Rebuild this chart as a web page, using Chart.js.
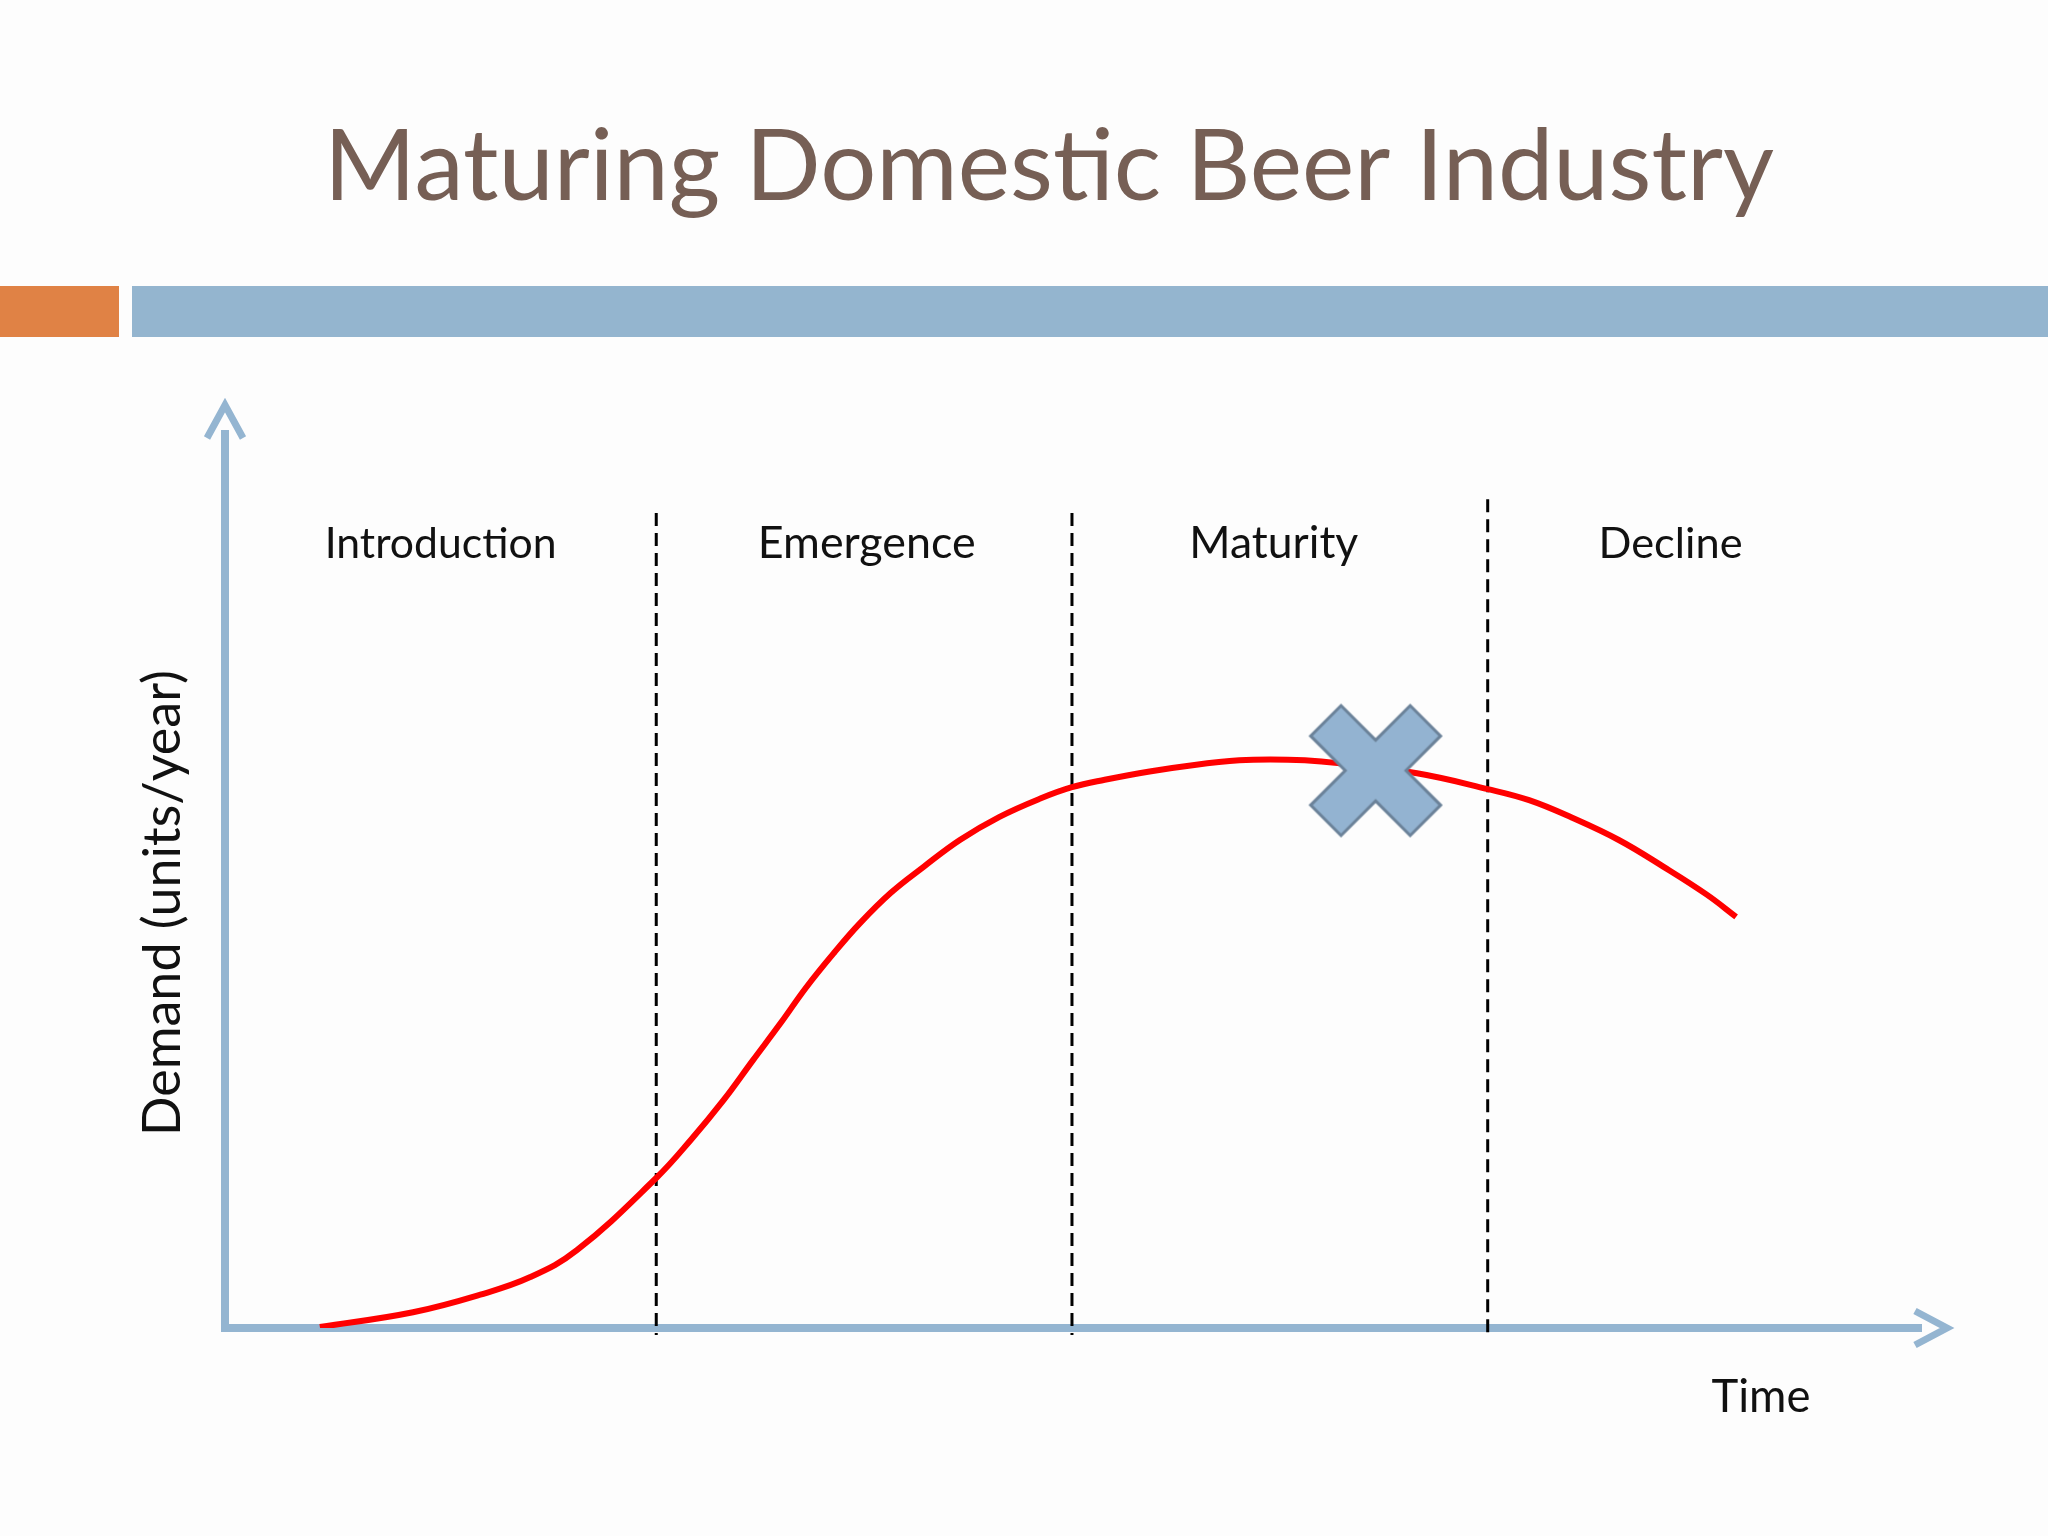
<!DOCTYPE html>
<html>
<head>
<meta charset="utf-8">
<script src="https://cdn.jsdelivr.net/npm/chart.js@4.4.1/dist/chart.umd.min.js"></script>
<style>
  html, body { margin: 0; padding: 0; background: #fdfdfd; }
  #wrap { width: 2048px; height: 1536px; }
</style>
</head>
<body>
<div id="wrap"><canvas id="chart" width="2048" height="1536"></canvas></div>
<script>
// data (time on x 0..100, demand on y 0..100)
var chartTitle = "Maturing Domestic Beer Industry";
var stageNames = ["Introduction", "Emergence", "Maturity", "Decline"];
var stageLabelX = [12.5, 37.2, 60.8, 83.8];
var stageBoundaries = [25, 49.1, 73.2];
var boundaryTops = [88, 88, 89.5];
var timeX = [5.5, 10.9, 14.8, 17.7, 20.4, 25.0, 27.0, 28.9, 30.6, 32.2, 33.7, 35.3, 36.8,
             38.6, 40.5, 42.6, 44.9, 47.3, 49.1, 51.0, 53.6, 56.2, 58.8, 60.6, 62.6, 64.5,
             69.1, 73.2, 75.6, 78.1, 80.8, 83.4, 85.9, 87.6];
var demandY = [0.1, 1.7, 3.6, 5.5, 8.4, 16.2, 20.3, 24.6, 28.9, 32.9, 36.8, 40.5, 43.7,
               47.0, 49.8, 52.7, 55.2, 57.2, 58.4, 59.2, 60.1, 60.8, 61.3, 61.4, 61.3, 61.0,
               59.9, 58.2, 57.0, 55.1, 52.7, 49.8, 46.8, 44.4];
var markerX = [66.7];
var markerY = [60.2];
var xAxisTitle = "Time";
var yAxisTitle = "Demand (units/year)";

var axisColor = "#94b5d1";
var fontFamily = "Lato, 'Open Sans', sans-serif";

// filled X used as the marker image
function makeCross() {
    var size = 140;
    var c = document.createElement("canvas");
    c.width = size; c.height = size;
    var g = c.getContext("2d");
    var h = 21.5, L = 70.4;
    var pts = [[L, -h], [L, h], [h, h], [h, L], [-h, L], [-h, h], [-L, h], [-L, -h],
               [-h, -h], [-h, -L], [h, -L], [h, -h]];
    g.translate(size / 2, size / 2);
    g.rotate(Math.PI / 4);
    g.beginPath();
    pts.forEach(function (p, i) { if (i == 0) g.moveTo(p[0], p[1]); else g.lineTo(p[0], p[1]); });
    g.closePath();
    g.fillStyle = "#93b3d1";
    g.fill();
    g.lineWidth = 3;
    g.lineJoin = "miter";
    g.strokeStyle = "#6b8299";
    g.stroke();
    return c;
}

function fitSize(ctx, text, weight, width) {
    ctx.font = weight + " 100px " + fontFamily;
    return 100 * width / ctx.measureText(text).width;
}

var slidePlugin = {
    id: "slide",
    beforeDraw: function (chart) {
        var ctx = chart.ctx;
        ctx.save();
        ctx.fillStyle = "#fdfdfd";
        ctx.fillRect(0, 0, chart.width, chart.height);
        // header bars
        ctx.fillStyle = "#e08245";
        ctx.fillRect(0, 286, 119, 51);
        ctx.fillStyle = "#94b5cf";
        ctx.fillRect(132, 286, chart.width - 132, 51);
        // title
        var s = fitSize(ctx, chartTitle, "400", 1450);
        ctx.font = "400 " + s + "px " + fontFamily;
        ctx.fillStyle = "#765f55";
        ctx.textAlign = "center";
        ctx.textBaseline = "alphabetic";
        ctx.fillText(chartTitle, 1049, 200);
        ctx.restore();
    },
    beforeDatasetsDraw: function (chart) {
        var ctx = chart.ctx;
        var xs = chart.scales.x, ys = chart.scales.y;
        var x0 = xs.getPixelForValue(0), y0 = ys.getPixelForValue(0);
        var xEnd = xs.getPixelForValue(100), yEnd = ys.getPixelForValue(100);
        ctx.save();
        // axes
        ctx.strokeStyle = axisColor;
        ctx.lineWidth = 8;
        ctx.lineCap = "butt";
        ctx.beginPath();
        ctx.moveTo(x0, y0 + 4);
        ctx.lineTo(x0, yEnd + 28);
        ctx.moveTo(x0 - 4, y0);
        ctx.lineTo(xEnd - 28, y0);
        ctx.stroke();
        ctx.lineWidth = 7;
        ctx.lineJoin = "miter";
        ctx.beginPath();
        ctx.moveTo(x0 - 18, yEnd + 36);
        ctx.lineTo(x0, yEnd + 3);
        ctx.lineTo(x0 + 18, yEnd + 36);
        ctx.moveTo(xEnd - 35, y0 - 17);
        ctx.lineTo(xEnd - 3, y0);
        ctx.lineTo(xEnd - 35, y0 + 17);
        ctx.stroke();
        // stage boundaries
        ctx.strokeStyle = "#000";
        ctx.lineWidth = 3;
        ctx.setLineDash([13, 7]);
        stageBoundaries.forEach(function (b, i) {
            var px = xs.getPixelForValue(b);
            ctx.beginPath();
            ctx.moveTo(px, ys.getPixelForValue(boundaryTops[i]));
            ctx.lineTo(px, y0 + 7);
            ctx.stroke();
        });
        ctx.setLineDash([]);
        // stage labels
        ctx.fillStyle = "#111";
        ctx.textAlign = "center";
        ctx.textBaseline = "alphabetic";
        var widths = [232, 218, 169, 144];
        stageNames.forEach(function (name, i) {
            var s = fitSize(ctx, name, "400", widths[i]);
            ctx.font = "400 " + s + "px " + fontFamily;
            ctx.fillText(name, xs.getPixelForValue(stageLabelX[i]), ys.getPixelForValue(83.2));
        });
        // axis titles
        var ts = fitSize(ctx, xAxisTitle, "400", 99);
        ctx.font = "400 " + ts + "px " + fontFamily;
        ctx.fillText(xAxisTitle, 1761, 1412);
        var ds = fitSize(ctx, yAxisTitle, "400", 466);
        ctx.font = "400 " + ds + "px " + fontFamily;
        ctx.translate(180, 903);
        ctx.rotate(-Math.PI / 2);
        ctx.fillText(yAxisTitle, 0, 0);
        ctx.restore();
    }
};

var curvePoints = timeX.map(function (x, i) { return { x: x, y: demandY[i] }; });
var markerPoints = markerX.map(function (x, i) { return { x: x, y: markerY[i] }; });

new Chart("chart", {
    type: "line",
    data: {
        datasets: [{
            label: "Peak",
            data: markerPoints,
            showLine: false,
            pointStyle: makeCross(),
            pointRadius: 10,
            order: 0
        }, {
            label: "Demand",
            data: curvePoints,
            borderColor: "#ff0000",
            borderWidth: 6,
            pointRadius: 0,
            tension: 0.4,
            fill: false,
            order: 1
        }]
    },
    options: {
        responsive: false,
        animation: false,
        layout: { padding: { left: 225, right: 98, top: 402, bottom: 208 } },
        scales: {
            x: { type: "linear", min: 0, max: 100, display: false },
            y: { type: "linear", min: 0, max: 100, display: false }
        },
        plugins: {
            legend: { display: false },
            tooltip: { enabled: false },
            title: { display: false }
        }
    },
    plugins: [slidePlugin]
});
</script>
</body>
</html>
